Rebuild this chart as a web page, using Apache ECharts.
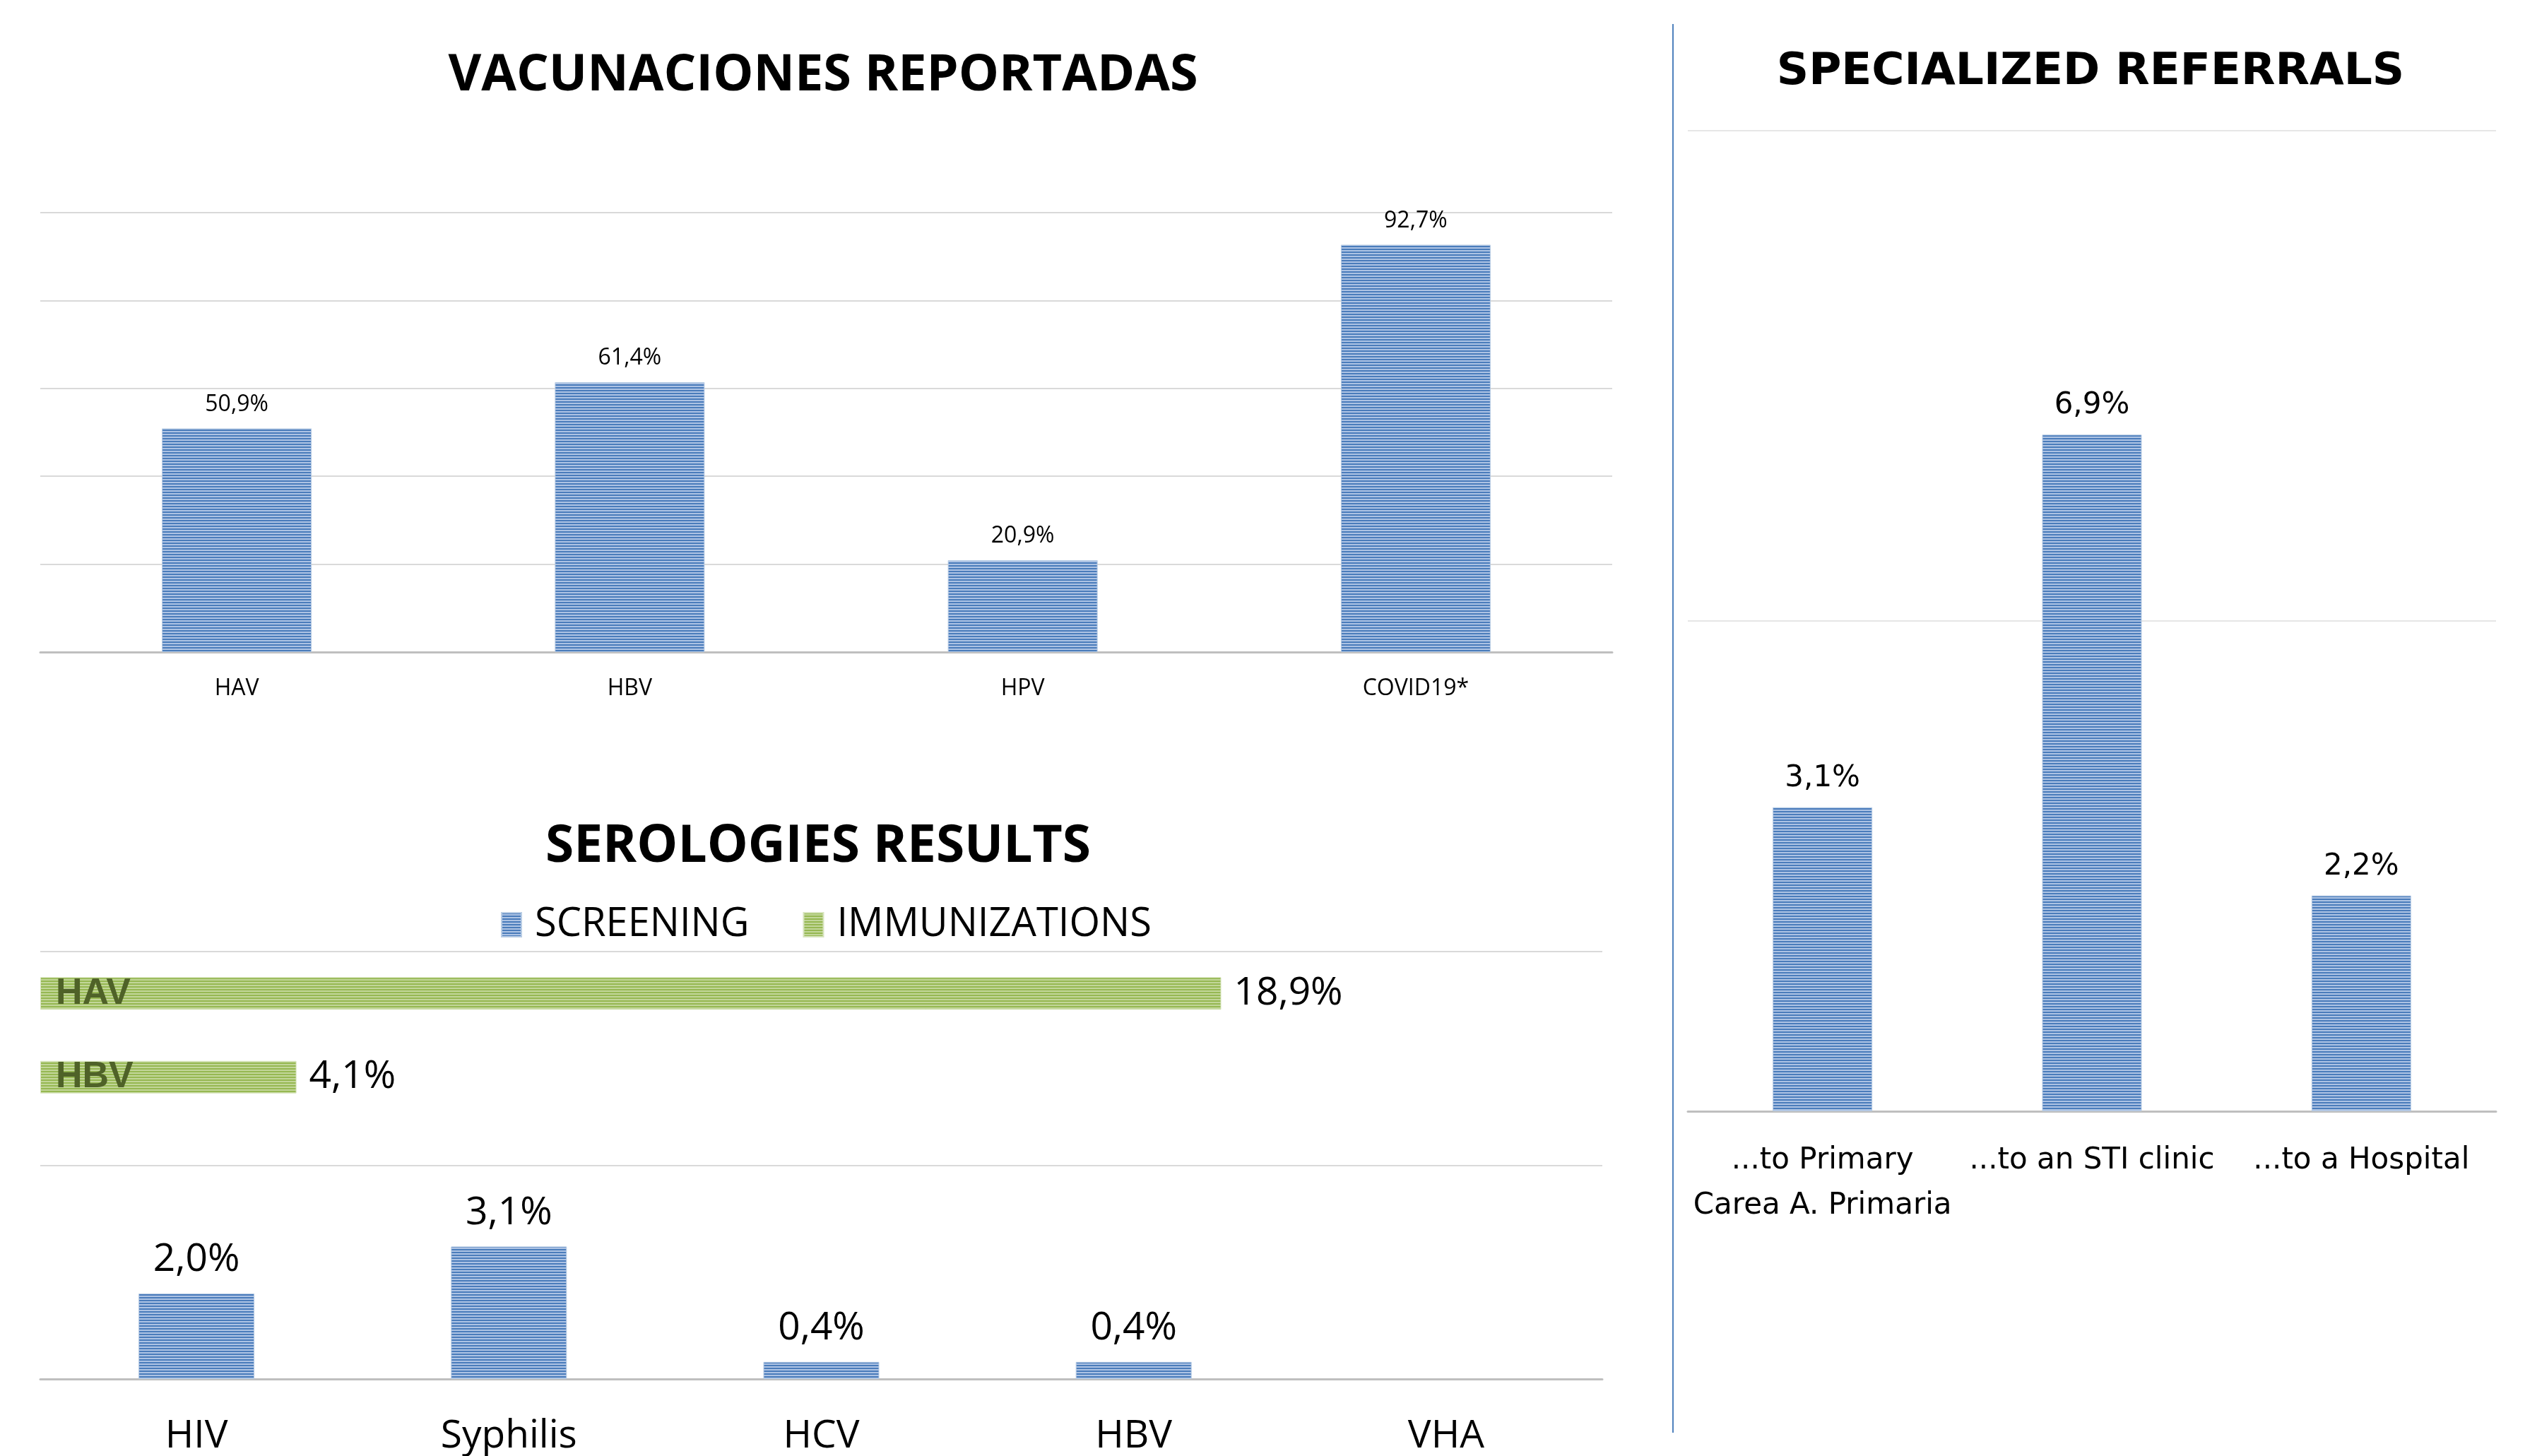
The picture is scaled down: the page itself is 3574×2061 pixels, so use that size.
<!DOCTYPE html>
<html>
<head>
<meta charset="utf-8">
<script src="https://cdn.jsdelivr.net/npm/echarts@6/dist/echarts.min.js"></script>
<style>
  html, body { margin: 0; padding: 0; background: #fff; }
  #chart { width: 3574px; height: 2061px; }
</style>
</head>
<body>
<div id="chart"></div>
<script>
// vacunaciones
var vacCats = ['HAV', 'HBV', 'HPV', 'COVID19*'];
var vacValues = [50.9, 61.4, 20.9, 92.7];
// serologies
var seroCats = ['HIV', 'Syphilis', 'HCV', 'HBV', 'VHA'];
var screenValues = [2.0, 3.1, 0.4, 0.4, null];
var immCats = ['HAV', 'HBV'];
var immValues = [18.9, 4.1];
// referrals
var refCats = ['...to Primary\nCarea A. Primaria', '...to an STI clinic', '...to a Hospital'];
var refValues = [3.1, 6.9, 2.2];

function stripes(dark, light) {
  var c = document.createElement('canvas');
  c.width = 4; c.height = 4;
  var g = c.getContext('2d');
  g.fillStyle = light; g.fillRect(0, 0, 4, 4);
  g.fillStyle = dark; g.fillRect(0, 0, 4, 2);
  return { image: c, repeat: 'repeat' };
}
var blue = stripes('#4a7cbb', '#adc3e4');
var green = stripes('#96b852', '#c2d699');

function pct(p) { return p.value == null ? '' : p.value.toFixed(1).replace('.', ',') + '%'; }

var axisGray = { lineStyle: { color: '#bfbfbf', width: 3 } };
var tickGray = { length: 18, lineStyle: { color: '#bfbfbf', width: 3 } };
var split = { lineStyle: { color: '#d9d9d9', width: 2 } };
var F = 'Open Sans';

var myChart = echarts.init(document.getElementById('chart'));
var option = {
  animation: false,
  graphic: [
    { type: 'text', x: 1165, y: 107, style: { text: 'VACUNACIONES REPORTADAS', font: 'bold 72px "Open Sans"', fill: '#000', align: 'center', verticalAlign: 'middle' } },
    { type: 'text', x: 1158, y: 1199, style: { text: 'SEROLOGIES RESULTS', font: 'bold 73px "Open Sans"', fill: '#000', align: 'center', verticalAlign: 'middle' } },
    { type: 'text', x: 2959, y: 103, style: { text: 'SPECIALIZED REFERRALS', font: 'bold 63px "DejaVu Sans"', fill: '#000', align: 'center', verticalAlign: 'middle' } },
    { type: 'line', shape: { x1: 2368, y1: 34, x2: 2368, y2: 2028 }, style: { stroke: '#4f81bd', lineWidth: 2 } }
  ],
  legend: {
    data: ['SCREENING', 'IMMUNIZATIONS'],
    left: 704, top: 1276,
    icon: 'rect', itemWidth: 28, itemHeight: 34, itemGap: 76,
    textStyle: { fontFamily: F, fontSize: 56, color: '#000', padding: [0, 0, 0, 14] }
  },
  grid: [
    { left: 57, top: 301, width: 2225, height: 622 },
    { left: 57, top: 1347, width: 2211, height: 606 },
    { left: 57, top: 1347, width: 2211, height: 237 },
    { left: 2389, top: 185, width: 1144, height: 1388 }
  ],
  xAxis: [
    { gridIndex: 0, type: 'category', data: vacCats, axisLine: axisGray, axisTick: tickGray,
      axisLabel: { fontFamily: F, fontSize: 32, color: '#000', margin: 36 } },
    { gridIndex: 1, type: 'category', data: seroCats, axisLine: axisGray, axisTick: tickGray,
      axisLabel: { fontFamily: F, fontSize: 55, color: '#000', margin: 54 } },
    { gridIndex: 2, type: 'value', min: 0, max: 25, show: false },
    { gridIndex: 3, type: 'category', data: refCats, axisLine: axisGray, axisTick: tickGray,
      axisLabel: { fontFamily: 'DejaVu Sans', fontSize: 42, color: '#000', margin: 38, lineHeight: 64, interval: 0 } }
  ],
  yAxis: [
    { gridIndex: 0, type: 'value', min: 0, max: 100, interval: 20, axisLabel: { show: false }, splitLine: split },
    { gridIndex: 1, type: 'value', min: 0, max: 10, interval: 5, axisLabel: { show: false }, splitLine: split },
    { gridIndex: 2, type: 'category', data: immCats, inverse: true, z: 5,
      axisLine: { show: false }, axisTick: { show: false }, splitLine: { show: false },
      axisLabel: { inside: true, margin: 22, fontFamily: 'Liberation Sans', fontWeight: 'bold', fontSize: 52, color: '#4f6228' } },
    { gridIndex: 3, type: 'value', min: 0, max: 10, interval: 5, axisLabel: { show: false },
      splitLine: { lineStyle: { color: '#e6e6e6', width: 2 } } }
  ],
  series: [
    { type: 'bar', xAxisIndex: 0, yAxisIndex: 0, data: vacValues, barWidth: 212,
      itemStyle: { color: blue, borderColor: '#b8cce4', borderWidth: 1 },
      label: { show: true, position: 'top', distance: 18, formatter: pct, fontFamily: F, fontSize: 32, color: '#000' } },
    { name: 'SCREENING', type: 'bar', xAxisIndex: 1, yAxisIndex: 1, data: screenValues, barWidth: 164,
      itemStyle: { color: blue, borderColor: '#b8cce4', borderWidth: 1 },
      label: { show: true, position: 'top', distance: 20, formatter: pct, fontFamily: F, fontSize: 55, color: '#000' } },
    { name: 'IMMUNIZATIONS', type: 'bar', xAxisIndex: 2, yAxisIndex: 2, data: immValues, barWidth: 46,
      itemStyle: { color: green, borderColor: '#d7e4bd', borderWidth: 1 },
      label: { show: true, position: 'right', distance: 18, formatter: pct, fontFamily: F, fontSize: 55, color: '#000' } },
    { type: 'bar', xAxisIndex: 3, yAxisIndex: 3, data: refValues, barWidth: 141,
      itemStyle: { color: blue, borderColor: '#b8cce4', borderWidth: 1 },
      label: { show: true, position: 'top', distance: 20, formatter: pct, fontFamily: 'DejaVu Sans', fontSize: 42, color: '#000' } }
  ]
};
myChart.setOption(option);
</script>
</body>
</html>
